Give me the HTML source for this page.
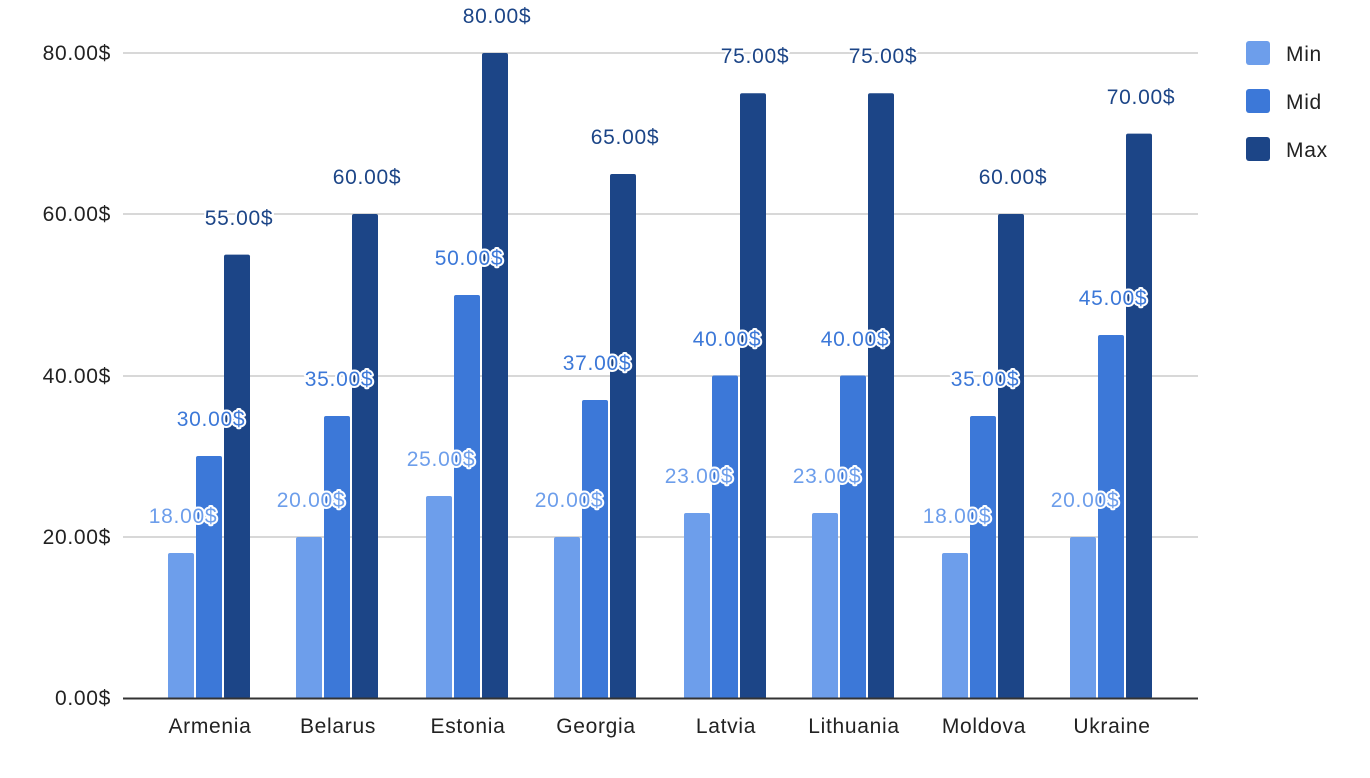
<!DOCTYPE html>
<html><head><meta charset="utf-8"><style>body{margin:0;background:#fff}svg{display:block}text{letter-spacing:0.7px}</style></head><body>
<svg width="1370" height="778" xmlns="http://www.w3.org/2000/svg" font-family="Liberation Sans, Arial, sans-serif">
<g stroke="#ccc" stroke-width="1.5">
<line x1="123" x2="1198" y1="53" y2="53"/><line x1="123" x2="1198" y1="214" y2="214"/><line x1="123" x2="1198" y1="376" y2="376"/><line x1="123" x2="1198" y1="537" y2="537"/>
</g>
<g font-size="21" fill="#222" text-anchor="end">
<text x="111" y="60">80.00$</text><text x="111" y="221">60.00$</text><text x="111" y="383">40.00$</text><text x="111" y="544">20.00$</text><text x="111" y="705">0.00$</text>
</g>
<g fill="#6d9eeb">
<rect x="168" y="553" width="26" height="146" rx="2"/><rect x="296" y="537" width="26" height="162" rx="2"/><rect x="426" y="496" width="26" height="203" rx="2"/><rect x="554" y="537" width="26" height="162" rx="2"/><rect x="684" y="513" width="26" height="186" rx="2"/><rect x="812" y="513" width="26" height="186" rx="2"/><rect x="942" y="553" width="26" height="146" rx="2"/><rect x="1070" y="537" width="26" height="162" rx="2"/>
</g>
<g fill="#3c78d8">
<rect x="196" y="456" width="26" height="243" rx="2"/><rect x="324" y="416" width="26" height="283" rx="2"/><rect x="454" y="295" width="26" height="404" rx="2"/><rect x="582" y="400" width="26" height="299" rx="2"/><rect x="712" y="375.5" width="26" height="323.5" rx="2"/><rect x="840" y="375.5" width="26" height="323.5" rx="2"/><rect x="970" y="416" width="26" height="283" rx="2"/><rect x="1098" y="335" width="26" height="364" rx="2"/>
</g>
<g fill="#1c4587">
<rect x="224" y="254.6" width="26" height="444" rx="2"/><rect x="352" y="214" width="26" height="485" rx="2"/><rect x="482" y="53" width="26" height="646" rx="2"/><rect x="610" y="174" width="26" height="525" rx="2"/><rect x="740" y="93.3" width="26" height="606" rx="2"/><rect x="868" y="93.3" width="26" height="606" rx="2"/><rect x="998" y="214" width="26" height="485" rx="2"/><rect x="1126" y="133.6" width="26" height="565" rx="2"/>
</g>
<line x1="123" x2="1198" y1="698.5" y2="698.5" stroke="#333" stroke-width="2"/>
<g font-size="21" text-anchor="middle" stroke="#fff" stroke-width="4" paint-order="stroke" stroke-linejoin="round">
<g fill="#6d9eeb">
<text x="183" y="523">18.00$</text><text x="311" y="507">20.00$</text><text x="441" y="466">25.00$</text><text x="569" y="507">20.00$</text><text x="699" y="483">23.00$</text><text x="827" y="483">23.00$</text><text x="957" y="523">18.00$</text><text x="1085" y="507">20.00$</text>
</g>
<g fill="#3c78d8">
<text x="211" y="426">30.00$</text><text x="339" y="386">35.00$</text><text x="469" y="265">50.00$</text><text x="597" y="370">37.00$</text><text x="727" y="346">40.00$</text><text x="855" y="346">40.00$</text><text x="985" y="386">35.00$</text><text x="1113" y="305">45.00$</text>
</g>
<g fill="#1c4587">
<text x="239" y="225">55.00$</text><text x="367" y="184">60.00$</text><text x="497" y="23">80.00$</text><text x="625" y="144">65.00$</text><text x="755" y="63">75.00$</text><text x="883" y="63">75.00$</text><text x="1013" y="184">60.00$</text><text x="1141" y="104">70.00$</text>
</g>
</g>
<g font-size="21" fill="#222" text-anchor="middle">
<text x="210" y="733">Armenia</text><text x="338" y="733">Belarus</text><text x="468" y="733">Estonia</text><text x="596" y="733">Georgia</text><text x="726" y="733">Latvia</text><text x="854" y="733">Lithuania</text><text x="984" y="733">Moldova</text><text x="1112" y="733">Ukraine</text>
</g>
<rect x="1246" y="41" width="24" height="24" rx="3" fill="#6d9eeb"/><rect x="1246" y="89" width="24" height="24" rx="3" fill="#3c78d8"/><rect x="1246" y="137" width="24" height="24" rx="3" fill="#1c4587"/>
<g font-size="21" fill="#222"><text x="1286" y="61">Min</text><text x="1286" y="109">Mid</text><text x="1286" y="157">Max</text></g>
</svg>
</body></html>
